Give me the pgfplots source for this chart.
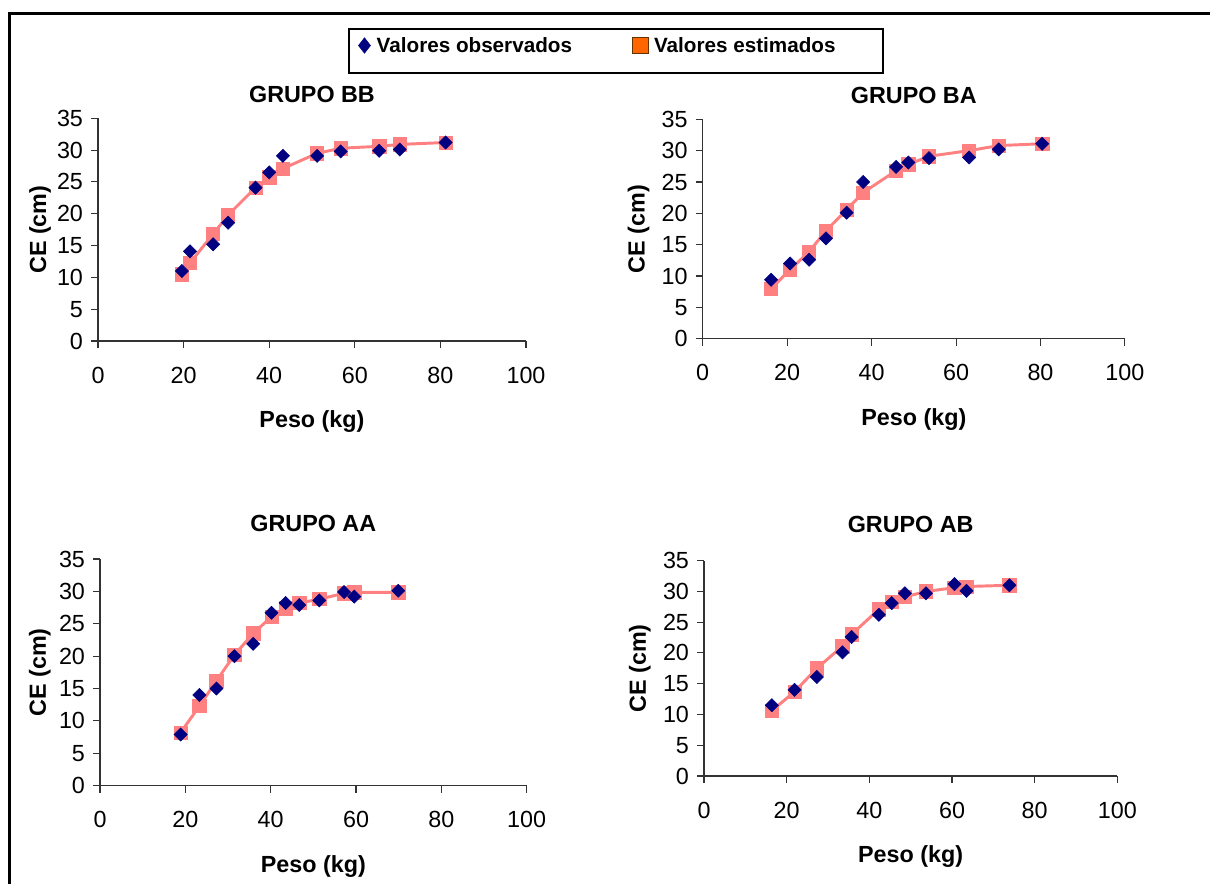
\documentclass[border=0pt]{standalone}
\usepackage{pgfplots}
\pgfplotsset{compat=1.18}
\usepackage{pgfplotstable}
\usepackage{fontspec}
\setmainfont{Liberation Sans}
\definecolor{obs}{HTML}{000080}
\definecolor{est}{HTML}{FF8080}
\definecolor{legor}{HTML}{FF6600}
\definecolor{legbr}{HTML}{663300}

% x = Peso (kg), obs = valores observados, est = valores estimados
\pgfplotstableread{
x obs est
19.6 11.0 10.5
21.5 14.1 12.3
26.9 15.2 16.8
30.4 18.6 19.8
36.8 24.1 24.1
40.0 26.5 25.7
43.2 29.1 27.1
51.2 29.1 29.5
56.7 29.8 30.3
65.7 29.9 30.6
70.5 30.1 30.9
81.2 31.2 31.2
}\tblBB
\pgfplotstableread{
x obs est
16.2 9.4 8.0
20.7 12.0 11.0
25.2 12.6 13.9
29.2 16.0 17.2
34.1 20.1 20.6
38.0 25.0 23.3
45.8 27.4 26.8
48.7 28.1 27.8
53.6 28.8 29.1
63.1 28.9 30.0
70.1 30.2 30.8
80.4 31.1 31.1
}\tblBA
\pgfplotstableread{
x obs est
18.9 7.9 8.2
23.3 14.0 12.3
27.3 15.0 16.2
31.5 20.0 20.2
35.9 21.9 23.5
40.2 26.7 26.1
43.5 28.2 27.4
46.7 27.9 28.2
51.4 28.6 28.8
57.2 29.9 29.7
59.6 29.2 29.85
69.9 30.1 29.85
}\tblAA
\pgfplotstableread{
x obs est
16.4 11.5 10.6
21.9 14.0 13.7
27.3 16.1 17.5
33.5 20.1 21.1
35.7 22.6 23.0
42.3 26.2 27.1
45.4 28.1 28.3
48.6 29.7 29.1
53.7 29.7 30.0
60.6 31.2 30.6
63.5 30.1 30.8
73.9 31.0 31.0
}\tblAB

\pgfplotsset{
  grp/.style={
    scale only axis,
    axis lines=left,
    axis line style={-, line width=0.8pt, black!80},
    xmin=0, xmax=100, ymin=0, ymax=35,
    xtick={0,20,...,100}, ytick={0,5,...,35},
    tick align=outside, major tick length=5.25pt,
    every tick/.style={line width=0.8pt, black!80},
    /pgf/number format/assume math mode=true,
    tick label style={font=\fontsize{17.5}{20}\selectfont},
    xticklabel style={yshift=-10.5pt},
    yticklabel style={xshift=-2.5pt},
    title style={at={(axis description cs:0.5,1)}, anchor=base, yshift=6pt,
      font=\fontsize{17.5}{20}\selectfont\bfseries},
    xlabel={Peso (kg)}, ylabel={CE (cm)},
    xlabel style={at={(axis description cs:0.5,0)}, anchor=base, yshift=-65pt,
      font=\fontsize{17.5}{20}\selectfont\bfseries},
    ylabel style={anchor=center, font=\fontsize{17.5}{20}\selectfont\bfseries},
    clip=false,
  },
  obsplot/.style={only marks, mark=square*, mark size=3.5pt,
    mark options={rotate=45, fill=obs, draw=obs}, color=obs},
  estplot/.style={color=est, line width=2.2pt, mark=square*, mark size=5pt,
    mark options={fill=est, draw=est, line width=0.5pt}},
}

\begin{document}
\begin{tikzpicture}
\path[use as bounding box] (0pt,0pt) rectangle (907.5pt,662.25pt);
\fill[white] (0pt,0pt) rectangle (907.5pt,662.25pt);
% outer frame (partly visible)
\draw[line width=2.5pt, line join=miter] (7.3pt,-10pt) -- (7.3pt,652pt) -- (920pt,652pt);
% legend frame
\draw[line width=0.8pt] (261.75pt,607.5pt) rectangle (662.25pt,640.5pt);

\begin{axis}[grp, at={(73.5pt,406.5pt)}, anchor=south west,
  width=321pt, height=167pt, title={GRUPO BB},
  ylabel style={at={(axis description cs:-0.1355,0.5)}},
  legend columns=2,
  legend style={draw=none, fill=none, at={(axis description cs:0.598,1.327)}, anchor=west,
    font=\fontsize{15.5}{18}\selectfont\bfseries,
    /tikz/every even column/.append style={column sep=43pt}},
  ]
\addlegendimage{legend image code/.code={
  \draw[fill=obs, draw=obs] (4.5pt,5.8pt) -- (9pt,0pt) -- (4.5pt,-5.8pt) -- (0pt,0pt) -- cycle;
  \path (11.5pt,0pt);}}
\addlegendentry{Valores observados}
\addlegendimage{legend image code/.code={
  \draw[fill=legor, draw=legbr, line width=0.6pt] (0pt,-5.8pt) rectangle (12pt,5.8pt);
  \path (14pt,0pt);}}
\addlegendentry{Valores estimados}
\addplot[estplot, forget plot] table[x=x, y=est] {\tblBB};
\addplot[obsplot, forget plot] table[x=x, y=obs] {\tblBB};
\end{axis}

\begin{axis}[grp, at={(527pt,408.2pt)}, anchor=south west,
  width=316.7pt, height=164.6pt, title={GRUPO BA},
  ylabel style={at={(axis description cs:-0.152,0.5)}}]
\addplot[estplot] table[x=x, y=est] {\tblBA};
\addplot[obsplot] table[x=x, y=obs] {\tblBA};
\end{axis}

\begin{axis}[grp, at={(75pt,73pt)}, anchor=south west,
  width=320pt, height=170pt, title={GRUPO AA},
  title style={yshift=9pt},
  ylabel style={at={(axis description cs:-0.141,0.5)}}]
\addplot[estplot] table[x=x, y=est] {\tblAA};
\addplot[obsplot] table[x=x, y=obs] {\tblAA};
\end{axis}

\begin{axis}[grp, at={(528pt,80.25pt)}, anchor=south west,
  width=310pt, height=161.5pt, title={GRUPO AB},
  title style={yshift=9pt},
  ylabel style={at={(axis description cs:-0.155,0.5)}}]
\addplot[estplot] table[x=x, y=est] {\tblAB};
\addplot[obsplot] table[x=x, y=obs] {\tblAB};
\end{axis}
\end{tikzpicture}
\end{document}
